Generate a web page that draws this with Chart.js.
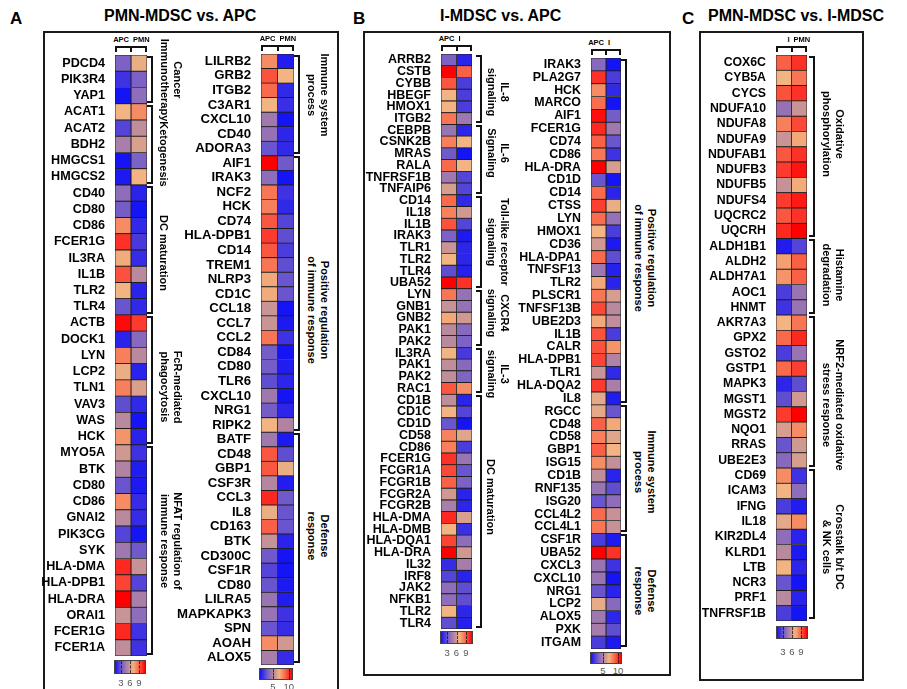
<!DOCTYPE html>
<html>
<head>
<meta charset="utf-8">
<title>MDSC vs APC heatmaps</title>
<script src="https://cdn.jsdelivr.net/npm/chart.js@4.4.1/dist/chart.umd.min.js"></script>
<style>
  body { margin: 0; width: 907px; height: 689px; position: relative; overflow: hidden; background: #fff;
         font-family: "Liberation Sans", Arial, sans-serif; color: #000; }
  .box { position: absolute; border: 2px solid #1b1b1b; box-sizing: border-box; }
  .letter { position: absolute; font-size: 17px; font-weight: bold; line-height: 1; }
  .title { position: absolute; font-size: 16px; font-weight: bold; line-height: 1; white-space: nowrap; }
  .grp { position: absolute; font-size: 11px; font-weight: bold; line-height: 12.5px; white-space: nowrap;
         text-align: center; transform: translate(-50%, -50%) rotate(90deg); color: #000; }
  .head { position: absolute; font-size: 7.5px; font-weight: bold; line-height: 8px; white-space: nowrap; color: #000; }
  .cblab { position: absolute; width: 20px; margin-left: -10px; text-align: center; font-size: 9.5px;
           color: #555; line-height: 10px; }
</style>
</head>
<body>
<div class="box" style="left:43px;top:31px;width:296px;height:700px"></div>
<div class="box" style="left:363px;top:31px;width:308px;height:645px"></div>
<div class="box" style="left:699px;top:31px;width:165px;height:650px"></div>

<div class="letter" style="left:10px;top:10px">A</div>
<div class="letter" style="left:353px;top:10px">B</div>
<div class="letter" style="left:682px;top:10px">C</div>
<div class="title" style="left:104px;top:8px">PMN-MDSC vs. APC</div>
<div class="title" style="left:440px;top:8px">I-MDSC vs. APC</div>
<div class="title" style="left:708px;top:8px">PMN-MDSC vs. I-MDSC</div>

<script>
// ---- Panel A, left heatmap ----
const genesA1 = ["PDCD4","PIK3R4","YAP1","ACAT1","ACAT2","BDH2","HMGCS1","HMGCS2","CD40","CD80","CD86","FCER1G","IL3RA","IL1B","TLR2","TLR4","ACTB","DOCK1","LYN","LCP2","TLN1","VAV3","WAS","HCK","MYO5A","BTK","CD80","CD86","GNAI2","PIK3CG","SYK","HLA-DMA","HLA-DPB1","HLA-DRA","ORAI1","FCER1G","FCER1A"];
const apcA1 = [3.5,2,1,7,2.5,4.8,1,1.2,4,3.3,8,10,7.2,9.3,7,3,10.8,1.5,8.3,6.8,8.3,2.8,5.3,7.8,6,5,3,8,5.3,2.5,4.5,10.2,9.6,11,5.8,10.2,5.5];
const pmnA1 = [6.8,3.5,4,8,5.5,6.3,3.5,7,1.5,1,1.7,2.2,1.8,5.3,1.5,1.7,9.8,3.8,5.3,1.5,6.3,1.7,1,1.5,2,1.3,1.2,1.8,1.8,1,3.2,5.7,2.5,4.8,4,2,2];
const groupsA1 = [[["Cancer","Immunotherapy"],3],[["Ketogenesis"],5],[["DC maturation"],8],[["FcR-mediated","phagocytosis"],8],[["NFAT regulation of","immune response"],13]];

// ---- Panel A, right heatmap ----
const genesA2 = ["LILRB2","GRB2","ITGB2","C3AR1","CXCL10","CD40","ADORA3","AIF1","IRAK3","NCF2","HCK","CD74","HLA-DPB1","CD14","TREM1","NLRP3","CD1C","CCL18","CCL7","CCL2","CD84","CD80","TLR6","CXCL10","NRG1","RIPK2","BATF","CD48","GBP1","CSF3R","CCL3","IL8","CD163","BTK","CD300C","CSF1R","CD80","LILRA5","MAPKAPK3","SPN","AOAH","ALOX5"];
const apcA2 = [8,9.3,8.8,7,4.5,4.2,3,11,4,8.5,8.3,9.2,9.8,9.2,8.5,7.3,7.2,5.8,5.8,8.5,3.3,3.3,2.8,4.5,3.3,7,4.5,9.2,9.2,5.2,10.2,6.8,9,5.7,3.2,2.5,3,4.3,4.3,3,8,4.8];
const pmnA2 = [1.3,7,1.7,1.9,1,1.6,1.7,3.2,1,2,1.7,2.5,2.8,2.3,2.8,3,3,1,1.2,2,1,1.3,1.6,1,1.6,5,1.2,2.8,6.8,1.3,3.2,3,3,1.5,1,1,1.2,1.3,2,1.8,6,1.8];
const groupsA2 = [[["Immune system","process"],7],[["Positive regulation","of immune response"],19],[["Defense","response"],16]];

// ---- Panel B, left heatmap ----
const genesB1 = ["ARRB2","CSTB","CYBB","HBEGF","HMOX1","ITGB2","CEBPB","CSNK2B","MRAS","RALA","TNFRSF1B","TNFAIP6","CD14","IL18","IL1B","IRAK3","TLR1","TLR2","TLR4","UBA52","LYN","GNB1","GNB2","PAK1","PAK2","IL3RA","PAK1","PAK2","RAC1","CD1B","CD1C","CD1D","CD58","CD86","FCER1G","FCGR1A","FCGR1B","FCGR2A","FCGR2B","HLA-DMA","HLA-DMB","HLA-DQA1","HLA-DRA","IL32","IRF8","JAK2","NFKB1","TLR2","TLR4"];
const apcB1 = [3.5,11,9.2,7,7,8.5,4.3,8.3,3.2,8.8,4.5,6.2,8.8,8.2,9.3,3.5,5.8,7,2.8,11,8.5,5.7,7.3,5.3,5.3,7,5.5,5.5,9.2,5.5,7,3,8.2,8.3,10,9.5,9,6,4.8,10.2,7,9.6,11,1.8,2.5,4,4,7,2.8];
const iB1 = [1.5,9,2.3,2.3,2.3,4.5,1.6,7,1,7,2.5,2.5,1.7,6,2.5,1.2,1.6,1.6,1.4,10,4.2,4.2,6,3.8,3.5,2.2,3.8,3.6,8,1.5,2.5,1,6.5,2.3,4.3,3,3.5,1.5,1.6,6.3,1.9,4,6,4.7,1.5,2.8,2.8,1.6,1.4];
const groupsB1 = [[["IL-8","signaling"],6],[["IL-6","Signaling"],6],[["Toll-like receptor","signaling"],8],[["CXCR4","signaling"],5],[["IL-3","signaling"],4],[["DC maturation"],20]];

// ---- Panel B, right heatmap ----
const genesB2 = ["IRAK3","PLA2G7","HCK","MARCO","AIF1","FCER1G","CD74","CD86","HLA-DRA","CD1D","CD14","CTSS","LYN","HMOX1","CD36","HLA-DPA1","TNFSF13","TLR2","PLSCR1","TNFSF13B","UBE2D3","IL1B","CALR","HLA-DPB1","TLR1","HLA-DQA2","IL8","RGCC","CD48","CD58","GBP1","ISG15","CD1B","RNF135","ISG20","CCL4L2","CCL4L1","CSF1R","UBA52","CXCL3","CXCL10","NRG1","LCP2","ALOX5","PXK","ITGAM"];
const apcB2 = [3.8,10,8,8.7,10.7,10.2,9,8.5,11,3,8.8,9.7,8.7,7,6,8.8,4.5,7.3,8.5,9.5,7.3,9.3,9.3,9.6,5.8,9.8,6.6,6.6,9,8.3,9,8,5.5,4.3,3,8.8,8.5,2.3,11,4.3,4.3,3,6.7,4.5,4.7,2.3];
const iB2 = [1,2.3,1.7,1,3.3,4.5,3,2,6.2,1,1.5,6.8,4.2,2.3,1.2,2.8,1.4,1.5,6.2,5.3,5.5,2.3,7.8,5,1.7,4.8,1.3,3,7.3,6.5,7,5.6,1.5,2.8,4,5.7,5.7,1.2,10,2,1,1.5,3.8,1.6,2.8,1.2];
const groupsB2 = [[["Positive regulation","of immune response"],27],[["Immune system","process"],10],[["Defense","response"],9]];

// ---- Panel C ----
const genesC = ["COX6C","CYB5A","CYCS","NDUFA10","NDUFA8","NDUFA9","NDUFAB1","NDUFB3","NDUFB5","NDUFS4","UQCRC2","UQCRH","ALDH1B1","ALDH2","ALDH7A1","AOC1","HNMT","AKR7A3","GPX2","GSTO2","GSTP1","MAPK3","MGST1","MGST2","NQO1","RRAS","UBE2E3","CD69","ICAM3","IFNG","IL18","KIR2DL4","KLRD1","LTB","NCR3","PRF1","TNFRSF1B"];
const iC = [9,7,9.3,4.2,8.3,5.8,9.2,9.8,5.7,9.8,9.2,10.2,1.3,7.5,7.8,2.3,2,7,8.8,2.3,8.8,1.6,2.8,9.8,6.2,3,3.8,8,7,2.3,6.6,4,5.3,7,3,5.3,2.3];
const pmnC = [10,8.5,10,5.8,9.5,7.3,10,10.6,7.2,10.5,10,11,2.5,9,9,4.3,4.3,8.5,10.2,4.3,9.7,2.8,6,11,8,6,6.2,2,4,1.3,8,1.5,1.2,1.6,1,1.5,1];
const groupsC = [[["Oxidative","phosphorylation"],12],[["Histamine","degradation"],5],[["NRF2-mediated oxidative","stress response"],10],[["Crosstalk b/t DC","& NK cells"],10]];

// colour bar ticks
const ticks369 = [3, 6, 9];
const ticks510 = [5, 10];

// blue -> purple -> peach -> red, value domain 1..11
const colorStops = [
  [1, 20, 20, 245], [2, 62, 50, 226], [3, 105, 85, 205], [4, 142, 110, 186],
  [5, 176, 130, 164], [6, 207, 152, 145], [7, 241, 180, 130], [8, 246, 140, 100],
  [9, 250, 96, 70], [10, 252, 50, 40], [11, 255, 0, 0]
];
const vMin = 1, vMax = 11;

const valueColor = (v) => {
  v = Math.max(vMin, Math.min(vMax, v));
  for (let i = 1; i < colorStops.length; i++) {
    const a = colorStops[i - 1], b = colorStops[i];
    if (v <= b[0]) {
      const t = (v - a[0]) / (b[0] - a[0]);
      const c = [1, 2, 3].map((k) => Math.round(a[k] + (b[k] - a[k]) * t));
      return `rgb(${c[0]},${c[1]},${c[2]})`;
    }
  }
  return "rgb(255,0,0)";
};

const gradientCss = () =>
  "linear-gradient(to right," +
  colorStops.map((s) => `rgb(${s[1]},${s[2]},${s[3]}) ${((s[0] - vMin) / (vMax - vMin)) * 100}%`).join(",") +
  ")";

const addEl = (cls, css, html) => {
  const d = document.createElement("div");
  if (cls) d.className = cls;
  d.style.cssText = "position:absolute;" + css;
  if (html != null) d.innerHTML = html;
  document.body.appendChild(d);
  return d;
};

Chart.defaults.font.family = '"Liberation Sans", Arial, sans-serif';

// layout of each heatmap (pixels); shift = move of each pathway label from its bracket centre
const heatmaps = [
  { genes: genesA1, cols: [apcA1, pmnA1], heads: ["APC", "PMN"], groups: groupsA1,
    x: 115, w: 32, top: 55, bottom: 656, labelW: 76, font: 12.6, bx: 153, lx: 158,
    shift: [1, 10, 3, 7, -9],
    bar: { x: 115, y: 661, w: 30, h: 12, ticks: ticks369, ly: 678 } },
  { genes: genesA2, cols: [apcA2, pmnA2], heads: ["APC", "PMN"], groups: groupsA2,
    x: 261, w: 33, top: 53.5, bottom: 664.5, labelW: 86, font: 13.2, bx: 300, lx: 305,
    shift: [-9, 16, -12],
    bar: { x: 260, y: 669, w: 32, h: 10, ticks: ticks510, ly: 682 } },
  { genes: genesB1, cols: [apcB1, iB1], heads: ["APC", "I"], groups: groupsB1,
    x: 441, w: 31, top: 54, bottom: 629, labelW: 76, font: 12.5, bx: 482, lx: 485,
    shift: [3, -7, 0, -5, 3, -15],
    bar: { x: 441, y: 632, w: 31, h: 11, ticks: ticks369, ly: 648 } },
  { genes: genesB2, cols: [apcB2, iB2], heads: ["APC", "I"], groups: groupsB2,
    x: 591, w: 30, top: 57.5, bottom: 648.5, labelW: 74, font: 12.4, bx: 627, lx: 632,
    shift: [27, 3, 0],
    bar: { x: 591, y: 653, w: 30, h: 10, ticks: ticks510, ly: 666 } },
  { genes: genesC, cols: [iC, pmnC], heads: ["I", "PMN"], groups: groupsC,
    x: 776, w: 31, top: 54.5, bottom: 620.5, labelW: 74, font: 12.3, bx: 815, lx: 820,
    shift: [-12, -1, 14, 3],
    bar: { x: 777, y: 627, w: 30, h: 11, ticks: ticks369, ly: 647 } }
];

heatmaps.forEach((m) => {
  const H = m.bottom - m.top;
  const rowH = H / m.genes.length;

  // heatmap itself: one floating bar per cell, colour from the value
  const holder = addEl("", `left:${m.x - m.labelW}px;top:${m.top}px;width:${m.labelW + m.w}px;height:${H}px;`);
  const canvas = document.createElement("canvas");
  canvas.width = m.labelW + m.w;
  canvas.height = Math.round(H);
  canvas.style.width = canvas.width + "px";
  canvas.style.height = canvas.height + "px";
  holder.appendChild(canvas);

  new Chart(canvas, {
    type: "bar",
    data: {
      labels: m.genes,
      datasets: m.cols.map((vals, ci) => ({
        label: m.heads[ci],
        data: vals.map(() => [ci, ci + 1]),
        backgroundColor: vals.map(valueColor),
        borderColor: "#1e1e1e",
        borderWidth: 0.8,
        borderSkipped: false,
        barPercentage: 1,
        categoryPercentage: 1,
        grouped: false,
      })),
    },
    options: {
      indexAxis: "y",
      responsive: false,
      maintainAspectRatio: false,
      animation: false,
      layout: { padding: 0 },
      plugins: { legend: { display: false }, tooltip: { enabled: false } },
      scales: {
        x: { type: "linear", min: 0, max: m.cols.length, display: false },
        y: {
          grid: { display: false },
          border: { display: false },
          ticks: { autoSkip: false, color: "#000", padding: 2, font: { size: m.font, weight: "bold" } },
          afterFit: (s) => {
            s.width = m.labelW;
            s.paddingTop = 0;
            s.paddingBottom = 0;
          },
        },
      },
    },
  });

  // column headers with bracket: first one ends left of the middle, second starts right of it
  const mid = m.x + m.w / 2;
  addEl("head", `right:${907 - (mid - 2)}px;top:${m.top - 19}px;`, m.heads[0]);
  addEl("head", `left:${mid + 2}px;top:${m.top - 19}px;`, m.heads[1]);
  addEl("", `left:${m.x}px;top:${m.top - 9}px;width:${m.w - 4}px;height:4px;border:2px solid #111;border-bottom:none;`);
  addEl("", `left:${mid - 1}px;top:${m.top - 9}px;width:2px;height:6px;background:#111;`);

  // pathway brackets and labels (text turned 90 degrees, first line to the right)
  let start = 0;
  m.groups.forEach(([name, n], gi) => {
    const y0 = m.top + start * rowH;
    const y1 = m.top + (start + n) * rowH;
    addEl("", `left:${m.bx - 6}px;top:${y0 + 1}px;width:4px;height:${y1 - y0 - 6}px;border:2px solid #111;border-left:none;`);
    const cx = m.lx + (name.length * 12.5) / 2;
    addEl("grp", `left:${cx}px;top:${(y0 + y1) / 2 + m.shift[gi]}px;`, name.join("<br>"));
    start += n;
  });

  // colour bar
  const b = m.bar;
  addEl("", `left:${b.x}px;top:${b.y}px;width:${b.w}px;height:${b.h}px;background:${gradientCss()};outline:1px solid #444;`);
  b.ticks.forEach((t) => {
    const px = b.x + ((t - vMin) / (vMax - vMin)) * b.w;
    addEl("", `left:${px}px;top:${b.y}px;width:0;height:${b.h}px;border-left:1px dashed rgba(0,0,0,0.65);`);
    addEl("cblab", `left:${px}px;top:${b.ly}px;`, String(t));
  });
});
</script>
</body>
</html>
